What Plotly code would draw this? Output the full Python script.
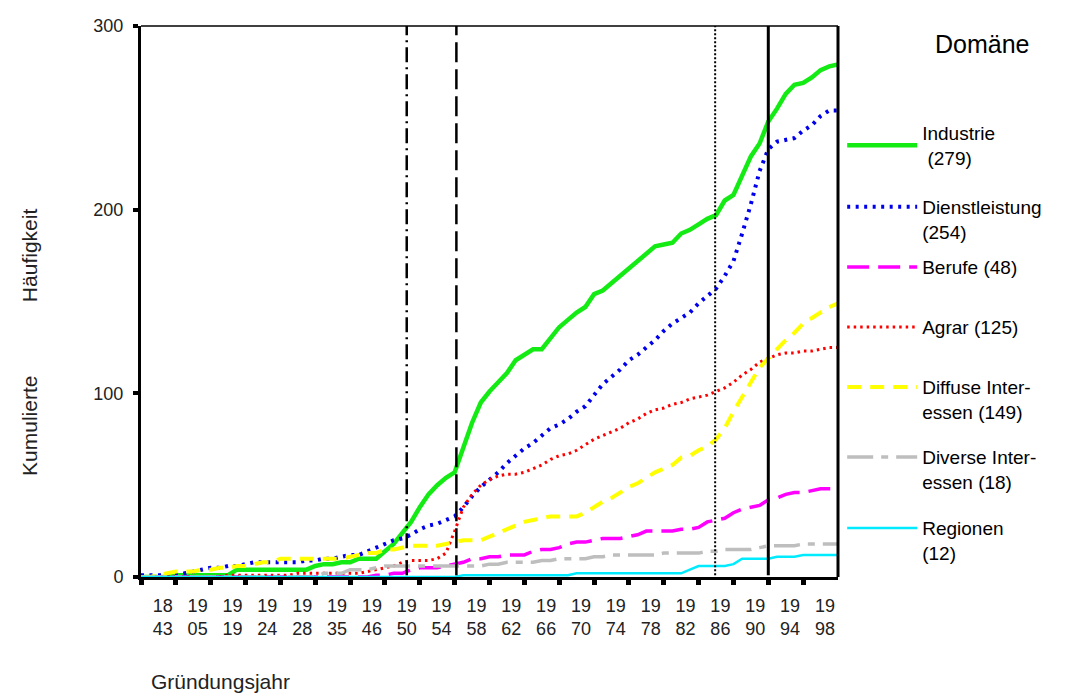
import plotly.graph_objects as go

# ---------------- data ----------------
tick_labels = ["18<br>43", "19<br>05", "19<br>19", "19<br>24", "19<br>28", "19<br>35", "19<br>46",
               "19<br>50", "19<br>54", "19<br>58", "19<br>62", "19<br>66", "19<br>70", "19<br>74",
               "19<br>78", "19<br>82", "19<br>86", "19<br>90", "19<br>94", "19<br>98"]

industrie = [0, 0, 0, 0, 1, 1, 1, 1, 1, 1, 1, 4, 4, 4, 4, 4, 4, 4, 4, 4,
             6, 7, 7, 8, 8, 10, 10, 10, 14, 18, 24, 30, 38, 45, 50, 54, 57, 70, 84, 95,
             101, 106, 111, 118, 121, 124, 124, 130, 136, 140, 144, 147, 154, 156, 160, 164, 168, 172, 176, 180,
             181, 182, 187, 189, 192, 195, 197, 205, 208, 218, 229, 236, 248, 255, 263, 268, 269, 272, 276, 278,
             279]
dienstleistung = [1, 1, 1, 1, 1, 2, 3, 4, 5, 5, 6, 6, 7, 8, 8, 8, 8, 8, 8, 9,
                  9, 10, 10, 11, 12, 12, 14, 16, 18, 20, 21, 23, 26, 28, 29, 31, 33, 38, 44, 49,
                  53, 57, 62, 66, 70, 73, 77, 81, 83, 86, 90, 93, 99, 105, 109, 113, 118, 121, 125, 129,
                  134, 138, 141, 144, 149, 153, 157, 164, 172, 187, 203, 221, 233, 237, 238, 239, 243, 246, 251, 254,
                  254]
berufe = [0, 0, 0, 0, 0, 0, 0, 0, 0, 0, 0, 0, 0, 0, 0, 0, 0, 0, 0, 0,
          0, 0, 0, 0, 0, 0, 0, 1, 1, 2, 2, 4, 5, 5, 5, 6, 7, 8, 10, 10,
          11, 11, 12, 12, 12, 14, 15, 15, 16, 18, 19, 19, 20, 21, 21, 21, 22, 23, 25, 25,
          25, 25, 26, 26, 27, 30, 31, 32, 35, 37, 38, 39, 42, 43, 45, 46, 46, 47, 48, 48,
          48]
agrar = [0, 0, 0, 0, 0, 0, 0, 0, 0, 0, 1, 1, 1, 1, 1, 1, 1, 1, 2, 2,
         2, 2, 2, 2, 2, 2, 3, 4, 5, 6, 8, 9, 9, 9, 10, 13, 25, 38, 45, 50,
         53, 55, 56, 56, 57, 59, 61, 64, 66, 67, 69, 72, 75, 77, 79, 81, 84, 86, 89, 91,
         92, 94, 95, 97, 98, 99, 101, 103, 106, 110, 113, 117, 119, 121, 122, 122, 123, 123, 124, 125,
         125]
diffuse = [0, 0, 1, 2, 3, 3, 3, 4, 4, 5, 5, 6, 6, 7, 8, 8, 10, 10, 10, 10,
           10, 10, 10, 10, 11, 12, 13, 13, 15, 15, 16, 17, 17, 17, 17, 18, 19, 20, 20, 20,
           22, 24, 26, 28, 30, 31, 32, 33, 33, 33, 33, 35, 38, 41, 43, 46, 49, 51, 54, 57,
           59, 61, 65, 66, 69, 71, 75, 81, 90, 98, 106, 114, 119, 124, 129, 133, 138, 141, 144, 147,
           149]
diverse = [0, 0, 0, 0, 0, 0, 0, 0, 0, 0, 0, 0, 0, 0, 0, 0, 0, 0, 0, 0,
           0, 2, 2, 2, 4, 4, 4, 5, 6, 6, 6, 6, 6, 6, 6, 6, 6, 6, 6, 6,
           7, 7, 8, 8, 8, 8, 9, 9, 10, 10, 10, 10, 11, 11, 12, 12, 12, 12, 12, 12,
           13, 13, 13, 13, 13, 14, 14, 15, 15, 15, 15, 16, 17, 17, 17, 17, 18, 18, 18, 18,
           18]
regionen = [0, 0, 0, 0, 0, 0, 0, 0, 0, 0, 0, 0, 0, 0, 0, 0, 0, 0, 0, 0,
            0, 0, 0, 0, 0, 0, 0, 0, 0, 0, 0, 0, 0, 0, 0, 0, 0, 1, 1, 1,
            1, 1, 1, 1, 1, 1, 1, 1, 1, 1, 2, 2, 2, 2, 2, 2, 2, 2, 2, 2,
            2, 2, 2, 4, 6, 6, 6, 6, 7, 10, 10, 10, 10, 11, 11, 11, 12, 12, 12, 12,
            12]

series_names = ["Industrie<br> (279)", "Dienstleistung<br>(254)", "Berufe (48)", "Agrar (125)",
                "Diffuse Inter-<br>essen (149)", "Diverse Inter-<br>essen (18)", "Regionen<br>(12)"]
series_values = [industrie, dienstleistung, berufe, agrar, diffuse, diverse, regionen]

# event markers, in category-position units
event_positions = [30.5, 36.2, 65.9, 72.0]

# ---------------- styles ----------------
FONT = "Liberation Sans, Arial, sans-serif"
styles = [
    dict(color="rgb(20,235,20)", width=4.5, dash="solid"),
    dict(color="rgb(0,0,235)", width=4, dash="3px,5.5px"),
    dict(color="rgb(255,0,255)", width=3.5, dash="22px,9px"),
    dict(color="rgb(255,0,0)", width=3, dash="2.5px,4px"),
    dict(color="rgb(255,255,0)", width=4, dash="14px,9px"),
    dict(color="rgb(190,190,190)", width=3.5, dash="26px,8px,7px,8px"),
    dict(color="rgb(0,235,255)", width=2.5, dash="solid"),
]
event_styles = [
    dict(color="black", width=2.5, dash="15px,5px,2px,5px"),
    dict(color="black", width=2.5, dash="20px,7px"),
    dict(color="black", width=2, dash="2px,2px"),
    dict(color="black", width=3, dash="solid"),
]
# legend block tops (paper coords) and symbol alignment, one legend per series
legend_tops = [0.840, 0.706, 0.597, 0.488, 0.379, 0.252, 0.123]
legend_valign = ["middle", "top", "top", "top", "top", "top", "top"]

n = len(industrie)
idx = list(range(n))
label_pos = [2.5 + 4 * k for k in range(len(tick_labels))]

fig = go.Figure()
legend_layout = {}
for i, (name, vals, st) in enumerate(zip(series_names, series_values, styles)):
    key = "legend" if i == 0 else f"legend{i + 1}"
    fig.add_trace(go.Scatter(x=idx, y=vals, mode="lines", name=name, line=st, legend=key))
    legend_layout[key] = dict(x=1.006, y=legend_tops[i], xanchor="left", yanchor="top",
                              font=dict(family=FONT, size=19, color="black"),
                              itemwidth=70, valign=legend_valign[i],
                              bgcolor="rgba(0,0,0,0)")

for xp, st in zip(event_positions, event_styles):
    fig.add_shape(type="line", xref="x", yref="y", x0=xp, x1=xp, y0=1, y1=300, line=st, layer="above")

# frame: top and right
fig.add_shape(type="line", xref="paper", yref="paper", x0=0, x1=1, y0=1, y1=1,
              line=dict(color="black", width=1.5))
fig.add_shape(type="line", xref="paper", yref="paper", x0=1, x1=1, y0=0, y1=1,
              line=dict(color="black", width=3))

fig.update_layout(
    width=1088, height=694,
    margin=dict(l=141, r=250, t=26, b=117),
    paper_bgcolor="white", plot_bgcolor="white",
    font=dict(family=FONT, color="black", size=17),
    showlegend=True,
    xaxis=dict(range=[0, n - 1], showgrid=False, zeroline=False,
               showline=True, linecolor="black", linewidth=3,
               tickmode="array", tickvals=list(range(0, n - 1, 4)), ticktext=[""] * len(range(0, n - 1, 4)),
               ticks="outside", ticklen=5, tickwidth=5, tickcolor="black"),
    xaxis2=dict(range=[0, n - 1], overlaying="x", anchor="y", side="bottom",
                showgrid=False, zeroline=False, showline=False,
                tickmode="array", tickvals=label_pos, ticktext=tick_labels,
                ticks="outside", ticklen=12, tickcolor="rgba(0,0,0,0)",
                tickfont=dict(family=FONT, size=18, color="#222")),
    yaxis=dict(range=[0, 300], showgrid=False, zeroline=False,
               showline=True, linecolor="black", linewidth=3,
               tickvals=[0, 100, 200, 300], ticks="outside", ticklen=5, tickwidth=4,
               ticklabelstandoff=6,
               tickcolor="black", tickfont=dict(family=FONT, size=18, color="#222")),
    **legend_layout,
)

# invisible trace to anchor xaxis2
fig.add_trace(go.Scatter(x=[0, n - 1], y=[None, None], xaxis="x2", yaxis="y",
                         showlegend=False, hoverinfo="skip", mode="lines"))

fig.add_annotation(text="Domäne", xref="paper", yref="paper", x=1.137, y=0.967, xanchor="left",
                   yanchor="middle", showarrow=False, font=dict(family=FONT, size=25, color="black"))
fig.add_annotation(text="Gründungsjahr", xref="paper", yref="paper", x=0.012, y=-0.19,
                   xanchor="left", yanchor="middle", showarrow=False,
                   font=dict(family=FONT, size=21, color="#222"))
fig.add_annotation(text="Kumulierte", xref="paper", yref="paper", x=-0.16, y=0.275,
                   xanchor="center", yanchor="middle", textangle=-90, showarrow=False,
                   font=dict(family=FONT, size=21, color="#222"))
fig.add_annotation(text="Häufigkeit", xref="paper", yref="paper", x=-0.16, y=0.585,
                   xanchor="center", yanchor="middle", textangle=-90, showarrow=False,
                   font=dict(family=FONT, size=21, color="#222"))

fig.write_html("out.html", config={"displayModeBar": False},
               post_script="document.body.style.margin='0px';")
